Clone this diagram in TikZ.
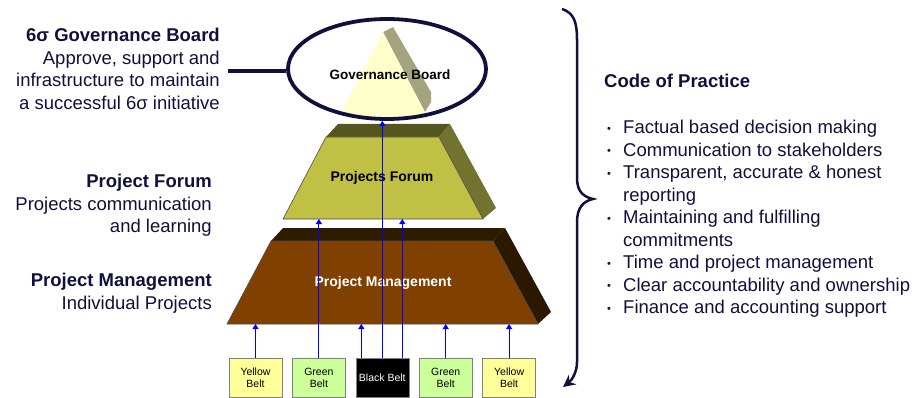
\documentclass[tikz,border=0pt]{standalone}
\usepackage{fontspec}
\setmainfont{Liberation Sans}
\usetikzlibrary{calc, positioning, shapes.geometric, arrows.meta}

\definecolor{inknavy}{RGB}{16,16,60}
\definecolor{govface}{RGB}{255,255,204}
\definecolor{govshade}{RGB}{163,163,126}
\definecolor{pffront}{RGB}{192,192,68}
\definecolor{pftop}{RGB}{85,85,30}
\definecolor{pfside}{RGB}{115,115,48}
\definecolor{pmfront}{RGB}{128,64,0}
\definecolor{pmtop}{RGB}{46,28,0}
\definecolor{pmside}{RGB}{42,24,0}
\definecolor{beltyellow}{RGB}{255,255,153}
\definecolor{beltgreen}{RGB}{204,255,153}

\newcommand\cpbul{\makebox[16pt][l]{\raisebox{1.5pt}{\fontsize{11}{11}\selectfont\textbullet}}}

\tikzset{
  side/.style={font=\fontsize{18.5}{22.5}\selectfont, text=inknavy, align=right, inner sep=0},
  belt/.style={draw=gray, minimum width=53, minimum height=39, inner sep=0, align=center, font=\fontsize{10.5}{12}\selectfont},
  feed/.style={draw=blue, line width=1.1, -{Triangle[length=5,width=6]}},
  tierlbl/.style={font=\bfseries\fontsize{14}{16}\selectfont},
}

\begin{document}
\begin{tikzpicture}[x=1pt, y=-1pt]
\useasboundingbox (0,0) rectangle (917,398);

% captions on the left
\node[side, anchor=north east] (govtxt) at (220,28) {\textbf{6σ Governance Board}\\Approve, support and\\infrastructure to maintain\\a successful 6σ initiative};
\node[side, anchor=north east] (pftxt) at (212,174) {\textbf{Project Forum}\\Projects communication\\and learning};
\node[side, anchor=north east] (pmtxt) at (212,273) {\textbf{Project Management}\\Individual Projects};

% governance board
\begin{scope}
  \clip (387,69) ellipse [x radius=98, y radius=49];
  \fill[govshade] (383,32) -- (393,27) -- (431,92) -- (431,102) -- (425,112) -- cycle;
  \fill[govface] (383,32) -- (429,120) -- (337,120) -- cycle;
\end{scope}
\node[ellipse, draw=inknavy, line width=3.8, minimum width=198, minimum height=100, inner sep=0] (gov) at (387,69) {};
\node[tierlbl, font=\bfseries\fontsize{13.5}{16}\selectfont] (govlbl) at (390,75) {Governance Board};
\coordinate (govend) at (228,71);
\draw[inknavy, line width=3.5] (govend) -- (gov.west |- govend);

% projects forum
\fill[pftop] (326,137) -- (338,124) -- (450,124) -- (439,137) -- cycle;
\fill[pfside] (439,137) -- (450,124) -- (496,208) -- (483,219) -- cycle;
\filldraw[fill=pffront, draw=black!70, line width=0.6] (326,137) -- (439,137) -- (483,219) -- (283,219) -- cycle;
\node[tierlbl] (pflbl) at (382,178) {Projects Forum};
\coordinate (pfbot) at (0,219);

% project management
\fill[pmtop] (271,241) -- (283,228) -- (505,228) -- (493,241) -- cycle;
\fill[pmside] (493,241) -- (505,228) -- (551,312) -- (538,324) -- cycle;
\filldraw[fill=pmfront, draw=black!70, line width=0.6] (271,241) -- (493,241) -- (538,324) -- (227,324) -- cycle;
\node[tierlbl, text=white] (pmlbl) at (383,283) {Project Management};
\coordinate (pmbot) at (0,324);

% belts
\node[belt, fill=beltyellow] (yb1) at (255.5,377.5) {Yellow\\Belt};
\node[belt, fill=beltgreen, right=10 of yb1] (gb1) {Green\\Belt};
\node[belt, fill=black, text=white, right=10 of gb1] (bb) {Black Belt};
\node[belt, fill=beltgreen, right=10 of bb] (gb2) {Green\\Belt};
\node[belt, fill=beltyellow, right=10 of gb2] (yb2) {Yellow\\Belt};

\draw[feed] (yb1.north) -- (yb1.north |- pmbot);
\draw[feed] (gb1.north) -- (gb1.north |- pfbot);
\draw[feed] ([xshift=-21]bb.north) -- ([xshift=-21]bb.north |- pmbot);
\draw[feed] (bb.north) -- (bb.north |- gov.south);
\draw[feed] ([xshift=20]bb.north) -- ([xshift=20]bb.north |- pfbot);
\draw[feed] (gb2.north) -- (gb2.north |- pmbot);
\draw[feed] (yb2.north) -- (yb2.north |- pmbot);

% brace
\draw[inknavy, line width=2.5, -{Stealth[length=12,width=12]}] (562,9) .. controls (574,13) and (577,22) .. (577,40) -- (577,178) .. controls (577,192) and (584,197) .. (593,199) .. controls (584,201) and (577,207) .. (577,222) -- (577,362) .. controls (577,372) and (572,380) .. (563,387);

% code of practice
\node[anchor=north west, inner sep=0, text=inknavy, font=\bfseries\fontsize{18.5}{22.5}\selectfont] (cop) at (604,74) {Code of Practice};
\node[anchor=north west, inner sep=0, align=left, text=inknavy, font=\fontsize{18.5}{22.5}\selectfont] (coplist) at (607,120) {\cpbul Factual based decision making\\
\cpbul Communication to stakeholders\\
\cpbul Transparent, accurate \& honest\\
\hspace*{16pt}reporting\\
\cpbul Maintaining and fulfilling\\
\hspace*{16pt}commitments\\
\cpbul Time and project management\\
\cpbul Clear accountability and ownership\\
\cpbul Finance and accounting support};
\end{tikzpicture}
\end{document}
